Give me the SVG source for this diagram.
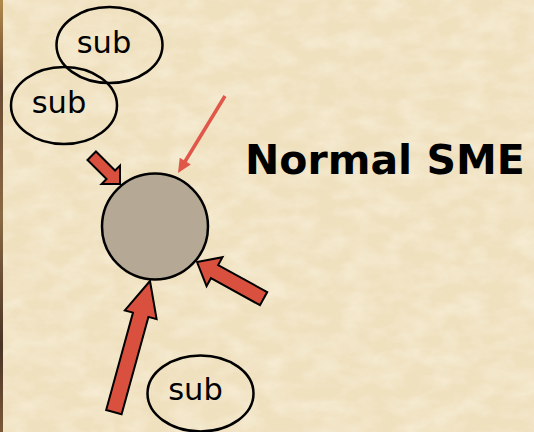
<svg xmlns="http://www.w3.org/2000/svg" width="534" height="432" viewBox="0 0 534 432">
  <defs>
    <style>
      .sub { fill: none; stroke: #000; stroke-width: 2.5; }
      .subtxt { font-family: "DejaVu Sans", "Noto Sans", sans-serif; font-size: 30.5px; fill: #000; text-anchor: middle; }
      .block { fill: #D9503F; stroke: #000; stroke-width: 2; stroke-linejoin: miter; }
      .thin { stroke: #E0574A; stroke-width: 3.5; fill: none; }
      .thinhead { fill: #E0574A; }
      .title { font-family: "DejaVu Sans", "Liberation Sans", sans-serif; font-weight: bold; font-size: 41px; fill: #000; }
    </style>
    <filter id="paper" x="0" y="0" width="100%" height="100%">
      <feTurbulence type="fractalNoise" baseFrequency="0.035 0.06" numOctaves="4" seed="7" result="n"/>
      <feColorMatrix in="n" type="matrix" values="0 0 0 0 0.98  0 0 0 0 0.93  0 0 0 0 0.80  0 0 0 0.9 -0.3" result="c"/>
      <feComposite in="c" in2="SourceGraphic" operator="in"/>
    </filter>
    <linearGradient id="edge" x1="0" y1="0" x2="0" y2="1">
      <stop offset="0" stop-color="#B08A4A"/>
      <stop offset="0.2" stop-color="#6A4A32"/>
      <stop offset="0.5" stop-color="#8A6A44"/>
      <stop offset="0.8" stop-color="#4A3425"/>
      <stop offset="1" stop-color="#7A5A38"/>
    </linearGradient>
  </defs>

  <rect x="0" y="0" width="534" height="432" fill="#EFE0BE"/>
  <rect x="0" y="0" width="534" height="432" fill="#EFE0BE" filter="url(#paper)"/>
  <rect x="0" y="0" width="3" height="432" fill="url(#edge)"/>

  <g id="connectors">
    <line class="thin" x1="225" y1="96" x2="183.5" y2="164"/>
    <polygon class="thinhead" points="0,0 -14,-6.5 -14,6.5" transform="translate(178,173) rotate(121.4)"/>
    <polygon class="block" points="0,0 -13,-13 -13,-6 -40,-6 -40,6 -13,6 -13,13" transform="translate(120,184) rotate(45)"/>
    <polygon class="block" points="0,0 -20,-16.5 -20,-7.5 -76,-7.5 -76,7.5 -20,7.5 -20,16.5" transform="translate(197,262) rotate(-151.2)"/>
    <polygon class="block" points="0,0 -35,-16.5 -35,-8 -136,-8 -136,8 -35,8 -35,16.5" transform="translate(150,281) rotate(-74.6)"/>
  </g>

  <g id="sme">
    <circle cx="155" cy="226.5" r="53" fill="#B5A996" stroke="#000" stroke-width="2.5"/>
  </g>

  <g id="sub-top">
    <ellipse class="sub" cx="109.5" cy="45" rx="53" ry="38"/>
    <text class="subtxt" x="104" y="53">sub</text>
  </g>

  <g id="sub-left">
    <ellipse class="sub" cx="64" cy="105.5" rx="53" ry="38.5"/>
    <text class="subtxt" x="59" y="113">sub</text>
  </g>

  <g id="sub-bottom">
    <ellipse class="sub" cx="200.5" cy="393.5" rx="53" ry="38"/>
    <text class="subtxt" x="195.5" y="400">sub</text>
  </g>

  <g id="label">
    <text class="title" x="245" y="174">Normal SME</text>
  </g>
</svg>
